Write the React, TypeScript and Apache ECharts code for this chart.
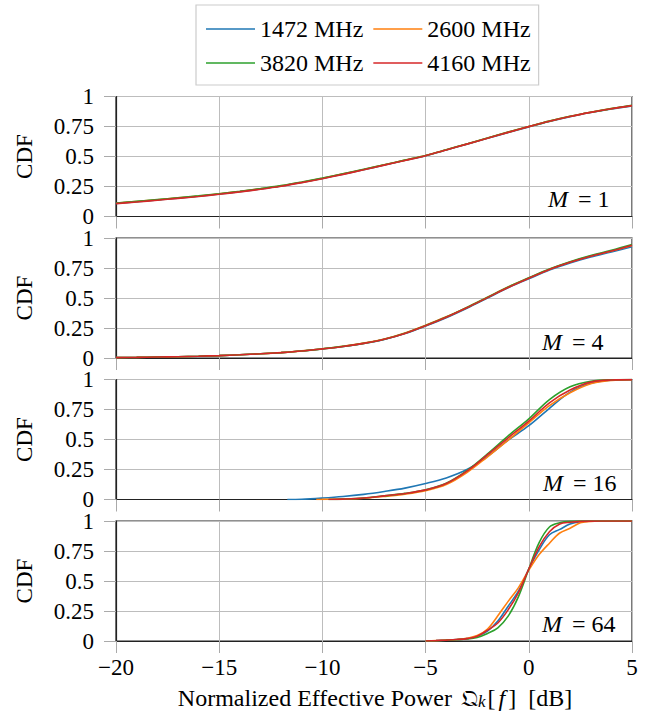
import React, { useEffect, useRef } from 'react';
import * as echarts from 'echarts';

const SERIES_NAMES = ['1472 MHz', '2600 MHz', '3820 MHz', '4160 MHz'];
const COLORS = ['#1f77b4', '#ff7f0e', '#2ca02c', '#d62728'];
const PANEL_LABELS = ['1', '4', '16', '64'];
const Y_TICKS = [0, 0.25, 0.5, 0.75, 1];
const X_TICKS = [-20, -15, -10, -5, 0, 5];
const X_TITLE = '{t|Normalized Effective Power }{q|\u{1D514}}{k|k}{t|[}{f|f}{t|]  [dB]}';
const Y_TITLE = 'CDF';

const X_FULL = [-20, -19, -18, -17, -16, -15, -14, -13, -12, -11, -10, -9, -8, -7, -6, -5, -4, -3, -2, -1, 0, 1, 2, 3, 4, 5];

// M = 1
const M1_1472 = [0.109, 0.123, 0.138, 0.153, 0.169, 0.187, 0.207, 0.229, 0.254, 0.284, 0.317, 0.353, 0.39, 0.429, 0.468, 0.507, 0.554, 0.603, 0.652, 0.7, 0.747, 0.792, 0.832, 0.866, 0.896, 0.922];
const M1_2600 = [0.111, 0.125, 0.14, 0.155, 0.171, 0.189, 0.209, 0.231, 0.256, 0.286, 0.319, 0.355, 0.392, 0.431, 0.47, 0.509, 0.556, 0.605, 0.654, 0.703, 0.75, 0.795, 0.835, 0.869, 0.899, 0.925];
const M1_3820 = [0.112, 0.126, 0.141, 0.156, 0.172, 0.19, 0.21, 0.232, 0.257, 0.287, 0.32, 0.356, 0.393, 0.431, 0.47, 0.509, 0.556, 0.605, 0.654, 0.703, 0.75, 0.795, 0.835, 0.869, 0.899, 0.926];
const M1_4160 = [0.107, 0.121, 0.136, 0.151, 0.167, 0.185, 0.205, 0.227, 0.252, 0.282, 0.315, 0.351, 0.389, 0.428, 0.467, 0.507, 0.554, 0.603, 0.652, 0.701, 0.749, 0.794, 0.834, 0.868, 0.898, 0.924];

// M = 4
const M4_1472 = [0.003, 0.005, 0.008, 0.011, 0.015, 0.02, 0.027, 0.035, 0.045, 0.058, 0.076, 0.096, 0.121, 0.155, 0.204, 0.267, 0.336, 0.415, 0.5, 0.585, 0.66, 0.733, 0.792, 0.842, 0.884, 0.928];
const M4_2600 = [0.003, 0.005, 0.008, 0.011, 0.015, 0.02, 0.027, 0.035, 0.045, 0.059, 0.077, 0.098, 0.124, 0.159, 0.209, 0.273, 0.343, 0.422, 0.507, 0.592, 0.667, 0.74, 0.8, 0.85, 0.892, 0.938];
const M4_3820 = [0.003, 0.005, 0.008, 0.011, 0.015, 0.02, 0.027, 0.035, 0.045, 0.058, 0.076, 0.097, 0.122, 0.156, 0.206, 0.27, 0.341, 0.421, 0.506, 0.592, 0.668, 0.742, 0.803, 0.854, 0.897, 0.945];
const M4_4160 = [0.003, 0.005, 0.008, 0.011, 0.015, 0.02, 0.027, 0.035, 0.045, 0.058, 0.076, 0.096, 0.122, 0.156, 0.205, 0.268, 0.339, 0.418, 0.503, 0.588, 0.664, 0.737, 0.797, 0.848, 0.891, 0.94];

// M = 16
const M16_X_1472 = [-11.7, -11, -10, -9, -8, -7, -6, -5, -4, -3, -2, -1, 0, 1, 2, 3, 4, 5];
const M16_1472 = [0, 0.002, 0.012, 0.025, 0.043, 0.067, 0.095, 0.133, 0.18, 0.25, 0.36, 0.495, 0.615, 0.76, 0.895, 0.968, 0.994, 0.999];
const M16_X_2600 = [-10.3, -10, -9, -8, -7, -6, -5, -4, -3, -2, -1, 0, 1, 2, 3, 4, 5];
const M16_2600 = [0, 0.001, 0.004, 0.011, 0.026, 0.045, 0.074, 0.124, 0.224, 0.356, 0.494, 0.639, 0.783, 0.89, 0.965, 0.993, 0.999];
const M16_X_3820 = [-9.7, -9, -8, -7, -6, -5, -4, -3, -2, -1, 0, 1, 2, 3, 4, 5];
const M16_3820 = [0, 0.003, 0.012, 0.031, 0.051, 0.081, 0.135, 0.24, 0.38, 0.53, 0.672, 0.833, 0.94, 0.986, 0.998, 1];
const M16_X_4160 = [-9.7, -9, -8, -7, -6, -5, -4, -3, -2, -1, 0, 1, 2, 3, 4, 5];
const M16_4160 = [0, 0.003, 0.012, 0.03, 0.05, 0.08, 0.133, 0.236, 0.373, 0.514, 0.653, 0.806, 0.912, 0.978, 0.996, 0.999];

// M = 64
const M64_X = [-5, -4.5, -4, -3.5, -3, -2.5, -2, -1.5, -1, -0.5, 0, 0.5, 1, 1.5, 2, 2.5, 3, 4, 5];
const M64_1472 = [0, 0.003, 0.007, 0.012, 0.02, 0.04, 0.083, 0.166, 0.29, 0.417, 0.6, 0.76, 0.885, 0.93, 0.975, 0.994, 0.998, 1, 1];
const M64_2600 = [0, 0.003, 0.008, 0.013, 0.022, 0.045, 0.1, 0.21, 0.33, 0.445, 0.59, 0.72, 0.815, 0.9, 0.94, 0.985, 0.997, 1, 1];
const M64_3820 = [0, 0.002, 0.006, 0.01, 0.016, 0.03, 0.063, 0.11, 0.207, 0.37, 0.6, 0.82, 0.95, 0.985, 0.997, 0.999, 1, 1, 1];
const M64_4160 = [0, 0.003, 0.007, 0.012, 0.02, 0.04, 0.09, 0.15, 0.26, 0.403, 0.6, 0.785, 0.91, 0.975, 0.99, 0.997, 0.999, 1, 1];

const PANELS: { xs: number[]; ys: number[] }[][] = [
  [
    { xs: X_FULL, ys: M1_1472 },
    { xs: X_FULL, ys: M1_2600 },
    { xs: X_FULL, ys: M1_3820 },
    { xs: X_FULL, ys: M1_4160 },
  ],
  [
    { xs: X_FULL, ys: M4_1472 },
    { xs: X_FULL, ys: M4_2600 },
    { xs: X_FULL, ys: M4_3820 },
    { xs: X_FULL, ys: M4_4160 },
  ],
  [
    { xs: M16_X_1472, ys: M16_1472 },
    { xs: M16_X_2600, ys: M16_2600 },
    { xs: M16_X_3820, ys: M16_3820 },
    { xs: M16_X_4160, ys: M16_4160 },
  ],
  [
    { xs: M64_X, ys: M64_1472 },
    { xs: M64_X, ys: M64_2600 },
    { xs: M64_X, ys: M64_3820 },
    { xs: M64_X, ys: M64_4160 },
  ],
];

const FAM = 'Liberation Serif';
const GRID_TOPS = [96.5, 238, 379.5, 521];
const GRID_H = 120;
const GRID_LEFT = 116;
const GRID_RIGHT = 17;
const LABEL_X = [548, 542, 543, 542];
const LABEL_DY = [18, 16, 17, 17.5];

function fmtX(v: number) {
  return v < 0 ? '\u2212' + Math.abs(v) : String(v);
}

function buildOption() {
  const grid = GRID_TOPS.map((t) => ({
    left: GRID_LEFT,
    right: GRID_RIGHT,
    top: t,
    height: GRID_H,
    show: true,
    borderColor: '#222',
    borderWidth: 1.2,
    backgroundColor: 'transparent',
  }));
  const xAxis = GRID_TOPS.map((_, i) => ({
    type: 'value',
    gridIndex: i,
    min: X_TICKS[0],
    max: X_TICKS[X_TICKS.length - 1],
    interval: 5,
    axisLine: { show: true, onZero: false, lineStyle: { color: '#222', width: 1.2 } },
    axisTick: { show: true, length: 12, lineStyle: { color: '#aaa', width: 1 } },
    splitLine: { show: true, lineStyle: { color: '#bdbdbd', width: 1 } },
    axisLabel: {
      show: i === 3,
      formatter: fmtX,
      fontFamily: FAM,
      fontSize: 23,
      color: '#000',
      margin: 15,
    },
  }));
  const yAxis = GRID_TOPS.map((_, i) => ({
    type: 'value',
    gridIndex: i,
    min: Y_TICKS[0],
    max: Y_TICKS[Y_TICKS.length - 1],
    interval: 0.25,
    axisLine: { show: true, onZero: false, lineStyle: { color: '#222', width: 1.2 } },
    axisTick: { show: true, length: 12, lineStyle: { color: '#aaa', width: 1 } },
    splitLine: { show: true, lineStyle: { color: '#bdbdbd', width: 1 } },
    axisLabel: {
      fontFamily: FAM,
      fontSize: 23,
      lineHeight: 20,
      color: '#000',
      margin: 22,
      formatter: (v: number) => String(v),
    },
    name: Y_TITLE,
    nameLocation: 'middle',
    nameRotate: 90,
    nameGap: 80,
    nameTextStyle: { fontFamily: FAM, fontSize: 23, color: '#000' },
  }));
  const series: any[] = [];
  PANELS.forEach((panel, pi) => {
    panel.forEach((s, si) => {
      series.push({
        type: 'line',
        name: SERIES_NAMES[si],
        xAxisIndex: pi,
        yAxisIndex: pi,
        data: s.xs.map((x, j) => [x, s.ys[j]]),
        symbol: 'none',
        showSymbol: false,
        smooth: 0.35,
        color: COLORS[si],
        lineStyle: { color: COLORS[si], width: 1.6 },
        z: 3 + si,
      });
    });
  });
  const graphic: any[] = PANEL_LABELS.map((m, i) => ({
    type: 'text',
    x: LABEL_X[i],
    y: GRID_TOPS[i] + GRID_H - LABEL_DY[i],
    z: 100,
    style: {
      text: '{i|M}{t| = ' + m + '}',
      fill: '#000',
      font: '24px ' + FAM,
      align: 'left',
      verticalAlign: 'middle',
      rich: {
        i: { font: 'italic 24px ' + FAM, fill: '#000', padding: [0, 4, 0, 0] },
        t: { font: '24px ' + FAM, fill: '#000' },
      },
    },
  }));
  graphic.push({
    type: 'text',
    x: (GRID_LEFT + (649 - GRID_RIGHT)) / 2 + 1,
    y: 698,
    z: 100,
    style: {
      text: X_TITLE,
      fill: '#000',
      font: '24px ' + FAM,
      align: 'center',
      verticalAlign: 'middle',
      rich: {
        t: { font: '24px ' + FAM, fill: '#000' },
        q: { font: '23px DejaVu Serif', fill: '#000', padding: [0, 0, 0, 3] },
        k: { font: 'italic 17px ' + FAM, fill: '#000', verticalAlign: 'bottom', lineHeight: 14, padding: [0, 2, 0, 0] },
        f: { font: 'italic 24px ' + FAM, fill: '#000', padding: [0, 3, 0, 3] },
      },
    },
  });
  return {
    animation: false,
    backgroundColor: '#fff',
    color: COLORS,
    legend: {
      data: SERIES_NAMES,
      left: 196,
      top: 5,
      width: 330,
      orient: 'horizontal',
      icon: 'rect',
      itemWidth: 49,
      itemHeight: 1.5,
      itemGap: 10,
      padding: [12, 8, 10, 10],
      borderColor: '#cccccc',
      borderWidth: 1.2,
      borderRadius: 0,
      textStyle: { fontFamily: FAM, fontSize: 24, color: '#000' },
    },
    grid,
    xAxis,
    yAxis,
    series,
    graphic,
  };
}

export default function App() {
  const ref = useRef<HTMLDivElement>(null);
  useEffect(() => {
    if (!ref.current) return;
    const chart = echarts.init(ref.current, null, { renderer: 'svg' });
    chart.setOption(buildOption() as any);
    return () => chart.dispose();
  }, []);
  return (
    <div
      ref={ref}
      style={{ position: 'fixed', left: 0, top: 0, width: 649, height: 722, background: '#fff' }}
    />
  );
}
